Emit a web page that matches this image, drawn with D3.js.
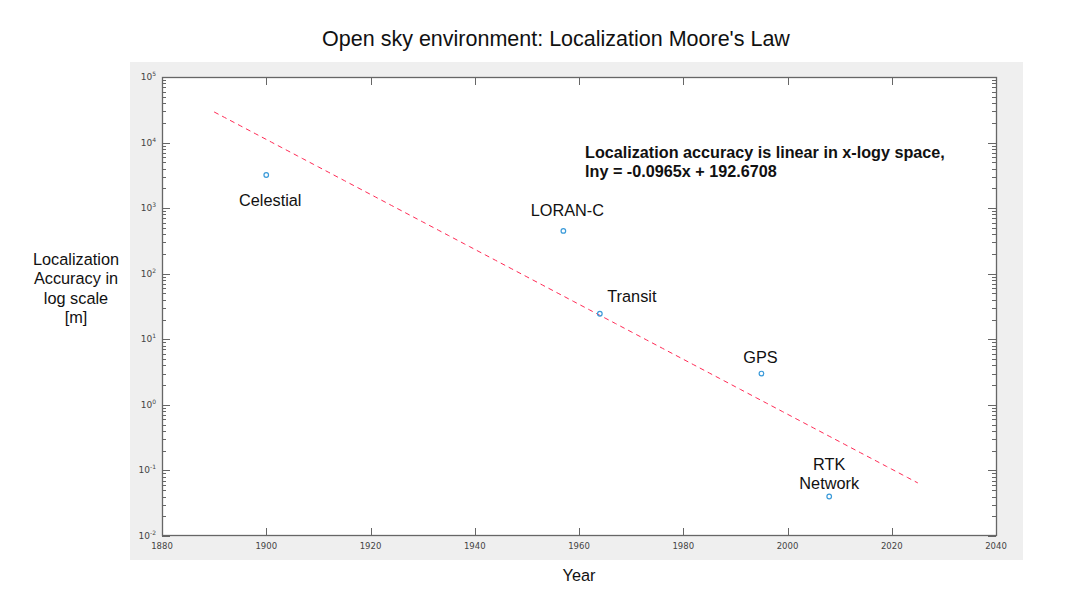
<!DOCTYPE html>
<html><head><meta charset="utf-8">
<script src="https://cdn.jsdelivr.net/npm/d3@7"></script>
<style>body{margin:0;background:#fff}svg{display:block}</style>
</head><body>
<script>
const names = ["Celestial","LORAN-C","Transit","GPS","RTK Network"];
const years = [1900,1957,1964,1995,2008];
const accuracy = [3200,450,24.5,3,0.04];
const fitSlope = -0.0965, fitIntercept = 192.6708;
const fitRange = [1890,2025];
const xTicks = [1880,1900,1920,1940,1960,1980,2000,2020,2040];
const yTicks = [-2,-1,0,1,2,3,4,5];
const labelOffsets = [[4,26],[4,-20],[32,-17],[-1,-16],[0,-32]];

const W=1080,H=597;
const svg=d3.select("body").append("svg").attr("width",W).attr("height",H);
svg.append("rect").attr("x",130).attr("y",62).attr("width",893).attr("height",498).attr("fill","#efefef");
const L=162,R=996,T=77,B=536;
svg.append("rect").attr("x",L).attr("y",T).attr("width",R-L).attr("height",B-T).attr("fill","#fff");
const x=d3.scaleLinear().domain([1880,2040]).range([L,R]);
const y=d3.scaleLog().domain([1e-2,1e5]).range([B,T]);
const axCol="#666";
const g=svg.append("g").attr("stroke",axCol).attr("stroke-width",1);
xTicks.forEach(t=>{const px=Math.round(x(t))+0.5;
  g.append("line").attr("x1",px).attr("x2",px).attr("y1",B).attr("y2",B-8);
  g.append("line").attr("x1",px).attr("x2",px).attr("y1",T).attr("y2",T+8);});
yTicks.forEach(e=>{
  const py=Math.round(y(Math.pow(10,e)))+0.5;
  g.append("line").attr("x1",L).attr("x2",L+8).attr("y1",py).attr("y2",py);
  g.append("line").attr("x1",R).attr("x2",R-8).attr("y1",py).attr("y2",py);
  if(e<5){for(let m=2;m<=9;m++){const pm=Math.round(y(m*Math.pow(10,e)))+0.5;
    g.append("line").attr("x1",L).attr("x2",L+4).attr("y1",pm).attr("y2",pm);
    g.append("line").attr("x1",R).attr("x2",R-4).attr("y1",pm).attr("y2",pm);}}
});
svg.append("rect").attr("x",L+0.5).attr("y",T+0.5).attr("width",R-L).attr("height",B-T-1)
  .attr("fill","none").attr("stroke",axCol).attr("stroke-width",1.3);
const tf="DejaVu Sans";
svg.append("g").selectAll("text").data(xTicks).join("text")
  .attr("x",d=>x(d)).attr("y",549).attr("text-anchor","middle")
  .attr("font-family",tf).attr("font-size",8.5).attr("fill","#444").text(d=>d);
const yl=svg.append("g").selectAll("text").data(yTicks).join("text")
  .attr("x",L-6).attr("y",d=>y(Math.pow(10,d))+3).attr("text-anchor","end")
  .attr("font-family",tf).attr("font-size",9).attr("fill","#444");
yl.append("tspan").text("10");
yl.append("tspan").attr("dy",-4).attr("font-size",6).text(d=>d);
const fitData=d3.range(fitRange[0],fitRange[1]+0.01,1).map(v=>[v,Math.exp(fitSlope*v+fitIntercept)]);
svg.append("path").datum(fitData)
  .attr("d",d3.line().x(d=>x(d[0])).y(d=>y(d[1])))
  .attr("fill","none").attr("stroke","#ff2a55").attr("stroke-width",1).attr("stroke-dasharray","5,4");
const pts=names.map((n,i)=>({n,yr:years[i],v:accuracy[i],o:labelOffsets[i]}));
svg.append("g").selectAll("circle").data(pts).join("circle")
  .attr("cx",d=>x(d.yr)).attr("cy",d=>y(d.v)).attr("r",2.3)
  .attr("fill","none").attr("stroke","#3a9ad9").attr("stroke-width",1.2);
const lf="Liberation Sans, Arial, sans-serif";
pts.forEach(d=>{
  const t=svg.append("text").attr("text-anchor","middle").attr("font-family",lf).attr("font-size",16.3).attr("fill","#111");
  const parts=d.n==="RTK Network"?["RTK","Network"]:[d.n];
  parts.forEach((p,k)=>t.append("tspan").attr("x",x(d.yr)+d.o[0]).attr("y",y(d.v)+d.o[1]+k*19+5).text(p));
});
const an=svg.append("text").attr("font-family",lf).attr("font-size",16.2).attr("font-weight","bold").attr("fill","#111");
an.append("tspan").attr("x",585).attr("y",158).text("Localization accuracy is linear in x-logy space,");
an.append("tspan").attr("x",585).attr("y",177).text("lny = "+fitSlope+"x + "+fitIntercept);
svg.append("text").attr("x",556).attr("y",46).attr("text-anchor","middle").attr("font-family",lf)
  .attr("font-size",21.5).attr("fill","#111").text("Open sky environment: Localization Moore's Law");
svg.append("text").attr("x",579).attr("y",581).attr("text-anchor","middle").attr("font-family",lf)
  .attr("font-size",16.3).attr("fill","#111").text("Year");
const yt=svg.append("text").attr("text-anchor","middle").attr("font-family",lf).attr("font-size",16.3).attr("fill","#111");
["Localization","Accuracy in","log scale","[m]"].forEach((s,k)=>yt.append("tspan").attr("x",76).attr("y",265+k*19.3).text(s));
</script>
</body></html>
